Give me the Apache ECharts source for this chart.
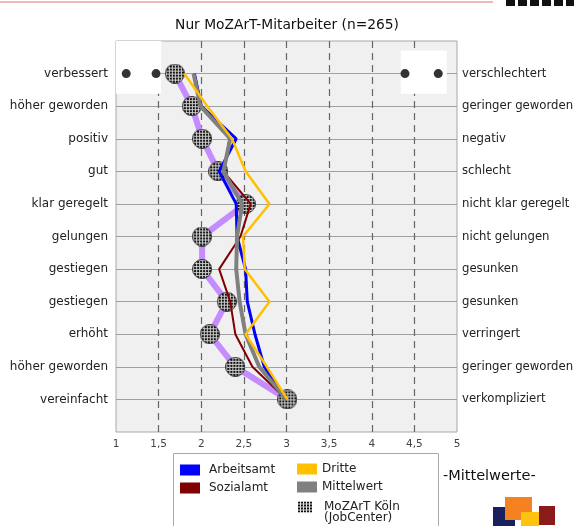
<!DOCTYPE html>
<html><head><meta charset="utf-8">
<script src="https://cdn.jsdelivr.net/npm/echarts@6/dist/echarts.min.js"></script>
<style>html,body{margin:0;padding:0;background:#fff}#c{width:574px;height:526px}</style>
</head><body><div id="c"></div>
<script>
var leftLabels = ['verbessert','höher geworden','positiv','gut','klar geregelt','gelungen','gestiegen','gestiegen','erhöht','höher geworden','vereinfacht'];
var rightLabels = ['verschlechtert','geringer geworden','negativ','schlecht','nicht klar geregelt','nicht gelungen','gesunken','gesunken','verringert','geringer geworden','verkompliziert'];
var xTicks = [1,1.5,2,2.5,3,3.5,4,4.5,5];
var arbeitsamt = [1.92, 2.00, 2.41, 2.21, 2.41, 2.42, 2.52, 2.54, 2.63, 2.74, 3.00];
var sozialamt  = [1.92, 2.00, 2.33, 2.26, 2.58, 2.46, 2.21, 2.34, 2.40, 2.60, 3.00];
var dritte     = [1.80, 2.07, 2.36, 2.52, 2.80, 2.49, 2.51, 2.80, 2.52, 2.77, 3.01];
var mittelwert = [1.91, 1.99, 2.34, 2.26, 2.48, 2.42, 2.41, 2.45, 2.52, 2.68, 3.00];
var mozart     = [1.69, 1.89, 2.01, 2.20, 2.52, 2.01, 2.01, 2.30, 2.10, 2.40, 3.01];
var cornerDots = [1.12, 1.47, 4.39, 4.78];

function pairs(arr){ return arr.map(function(v,i){ return [v, i+1]; }); }

// hatched pattern for legend icon
var pc = document.createElement('canvas'); pc.width = 3; pc.height = 3;
var g = pc.getContext('2d');
g.fillStyle = '#111'; g.fillRect(0,0,3,3);
g.fillStyle = '#e0e0e0'; g.fillRect(2,0,1,3); g.fillRect(0,2,3,1);
var pattern = {image: pc, repeat: 'repeat'};

// hatched ball image for the symbols
var S = 20;
var bc = document.createElement('canvas'); bc.width = S; bc.height = S;
var b = bc.getContext('2d');
b.save();
b.beginPath(); b.arc(S/2, S/2, S/2 - 0.5, 0, Math.PI*2); b.closePath(); b.clip();
b.fillStyle = '#111'; b.fillRect(0,0,S,S);
b.fillStyle = '#cfcfcf';
for (var k = 1; k < S; k += 3) { b.fillRect(k, 0, 1, S); b.fillRect(0, k, S, 1); }
b.restore();
b.beginPath(); b.arc(S/2, S/2, S/2 - 0.5, 0, Math.PI*2); b.strokeStyle = '#333'; b.lineWidth = 1; b.stroke();
var ballSymbol = 'image://' + bc.toDataURL();

var FONT = 'DejaVu Sans';
var chart = echarts.init(document.getElementById('c'), null, {renderer:'canvas'});
var mozName = 'MoZArT Köln\n(JobCenter)';
var legText = {fontSize: 12, color: '#222', fontFamily: FONT};
chart.setOption({
  animation: false,
  textStyle: {fontFamily: FONT},
  title: {text: 'Nur MoZArT-Mitarbeiter (n=265)', left: 'center', top: 13,
    textStyle: {fontFamily: FONT, fontSize: 13.8, fontWeight: 'normal', color: '#111'}},
  grid: {left: 116, right: 117, top: 41, bottom: 94, outerBoundsMode: 'none', containLabel: false,
    show: true, backgroundColor: '#f0f0f0', borderColor: '#a8a8a8', borderWidth: 1},
  xAxis: {type: 'value', min: 1, max: 5, interval: 0.5,
    axisLine: {show: false}, axisTick: {show: false},
    axisLabel: {fontSize: 10.5, color: '#444', margin: 7, fontFamily: FONT,
      formatter: function(v){ return String(v).replace('.', ','); }},
    splitLine: {show: true, showMinLine: false, showMaxLine: false, lineStyle: {color: '#666', type: [7,5], width: 1.2}}},
  yAxis: [
    {type: 'value', min: 0, max: 12, interval: 1, inverse: true, position: 'left',
      axisLine: {show: false}, axisTick: {show: false},
      axisLabel: {fontSize: 12, color: '#222', margin: 8, fontFamily: FONT,
        formatter: function(v){ return leftLabels[v-1] || ''; }},
      splitLine: {show: true, showMinLine: false, showMaxLine: false, lineStyle: {color: '#a0a0a0', width: 1}}},
    {type: 'value', min: 0, max: 12, interval: 1, inverse: true, position: 'right',
      axisLine: {show: false}, axisTick: {show: false},
      axisLabel: {fontSize: 11.7, color: '#222', margin: 5, fontFamily: FONT,
        formatter: function(v){ return rightLabels[v-1] || ''; }},
      splitLine: {show: false}}
  ],
  legend: [
    {orient: 'vertical', left: 180, top: 464, padding: 0, itemWidth: 20, itemHeight: 11, itemGap: 6, icon: 'rect',
      textStyle: Object.assign({padding: [0,0,0,4]}, legText), data: ['Arbeitsamt','Sozialamt']},
    {orient: 'vertical', left: 297, top: 463, padding: 0, itemWidth: 20, itemHeight: 11, itemGap: 6, icon: 'rect',
      textStyle: legText, data: ['Dritte','Mittelwert']},
    {orient: 'vertical', left: 298, top: 501, padding: 0, itemWidth: 14, itemHeight: 11, icon: 'rect',
      formatter: function(name){ return name.split('\n')[0]; },
      textStyle: Object.assign({padding: [0,0,0,7]}, legText), data: [mozName]}
  ],
  series: [
    {name: 'corner', type: 'scatter', data: cornerDots.map(function(v){ return [v,1]; }), symbolSize: 9,
      itemStyle: {color: '#000'}, z: 3, silent: true,
      markArea: {silent: true, itemStyle: {color: '#fff'}, data: [
        [{coord: [1.0, 0]}, {coord: [1.53, 1.62]}],
        [{coord: [4.34, 0.29]}, {coord: [4.88, 1.62]}]
      ]}},
    {name: mozName, type: 'line', data: pairs(mozart), symbol: ballSymbol, symbolSize: 20,
      lineStyle: {color: '#c58cff', width: 6}, itemStyle: {color: pattern}, z: 4},
    {name: 'Arbeitsamt', type: 'line', data: pairs(arbeitsamt), symbol: 'none', lineStyle: {color: '#0000ff', width: 3}, itemStyle: {color: '#0000ff'}, z: 5},
    {name: 'Sozialamt', type: 'line', data: pairs(sozialamt), symbol: 'none', lineStyle: {color: '#800000', width: 2}, itemStyle: {color: '#800000'}, z: 5},
    {name: 'Mittelwert', type: 'line', data: pairs(mittelwert), symbol: 'none', lineStyle: {color: '#808080', width: 4}, itemStyle: {color: '#808080'}, z: 5},
    {name: 'Dritte', type: 'line', data: pairs(dritte), symbol: 'none', lineStyle: {color: '#ffc000', width: 2.5}, itemStyle: {color: '#ffc000'}, z: 5}
  ],
  graphic: [
    {type: 'line', shape: {x1: 0, y1: 2, x2: 493, y2: 2}, style: {stroke: '#eaa0a0', lineWidth: 1.5}},
    {type: 'rect', shape: {x: 506, y: 0, width: 9, height: 6}, style: {fill: '#111'}},
    {type: 'rect', shape: {x: 518, y: 0, width: 9, height: 6}, style: {fill: '#111'}},
    {type: 'rect', shape: {x: 530, y: 0, width: 9, height: 6}, style: {fill: '#111'}},
    {type: 'rect', shape: {x: 542, y: 0, width: 9, height: 6}, style: {fill: '#111'}},
    {type: 'rect', shape: {x: 554, y: 0, width: 9, height: 6}, style: {fill: '#111'}},
    {type: 'rect', shape: {x: 566, y: 0, width: 8, height: 6}, style: {fill: '#111'}},
    {type: 'rect', shape: {x: 173.5, y: 453.5, width: 265, height: 80}, style: {fill: 'none', stroke: '#aaa', lineWidth: 1}, z: -1},
    {type: 'text', left: 324, top: 512, style: {text: '(JobCenter)', fontSize: 12, fill: '#222', fontFamily: FONT}},
    {type: 'text', left: 443, top: 469, style: {text: '-Mittelwerte-', fontSize: 14.5, fill: '#111', fontFamily: FONT}},
    {type: 'rect', shape: {x: 493, y: 507, width: 22, height: 19}, style: {fill: '#1a1f5e'}},
    {type: 'rect', shape: {x: 505, y: 497, width: 27, height: 23}, style: {fill: '#f58220'}},
    {type: 'rect', shape: {x: 521, y: 512, width: 18, height: 14}, style: {fill: '#ffc20e'}},
    {type: 'rect', shape: {x: 539, y: 506, width: 16, height: 19}, style: {fill: '#8b1a1a'}}
  ]
});
</script></body></html>
